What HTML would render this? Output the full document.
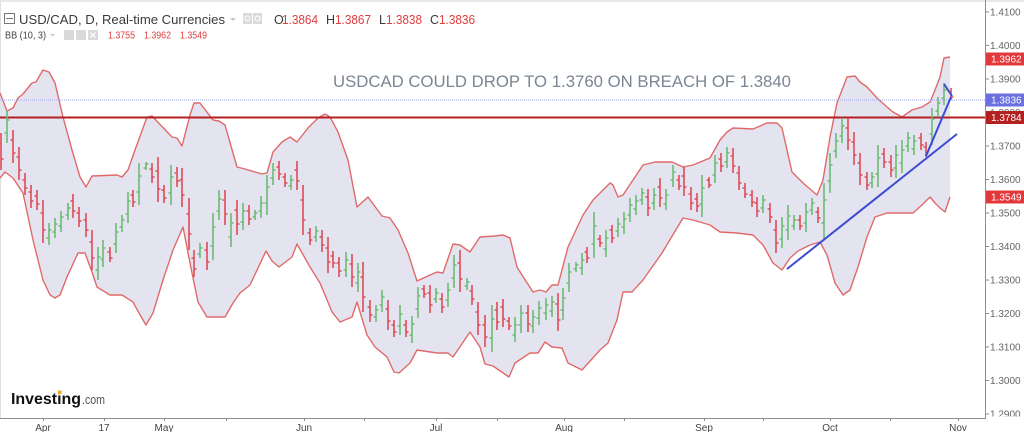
<!DOCTYPE html>
<html><head><meta charset="utf-8"><style>
html,body{margin:0;padding:0;background:#fff;}
svg{display:block;}
text{font-family:"Liberation Sans",sans-serif;}
</style></head><body>
<svg width="1024" height="432" viewBox="0 0 1024 432" xmlns="http://www.w3.org/2000/svg">
<rect x="0" y="0" width="1024" height="432" fill="#fff"/>
<rect x="0" y="0" width="1024" height="2" fill="#e9e9e9"/>
<line x1="0.5" y1="0" x2="0.5" y2="418" stroke="#dedede"/>

<!-- Bollinger band fill -->
<path fill="#e4e4f0" d="M0,93 L7,111 13,108 18,98 23,94 32,83 36,82 43,70 49,72 55,83 63,117 72,150 80,177 86,187 92,176 117,175 122,177 128,170 135,150 147,117 152,116 172,137 177,138 182,146 190,115 194,103 200,103 213,120 219,121 225,125 237,167 245,169 255,172 262,174 267,173 273,152 282,142 290,137 297,142 308,128 318,118 325,114 330,117 338,132 348,160 357,207 368,197 382,216 390,218 398,230 408,253 417,281 430,275 437,272 443,273 453,244 460,245 470,252 480,237 495,236 503,235 510,238 517,267 522,275 533,292 540,290 546,292 552,285 558,285 568,247 583,215 593,200 610,183 613,185 618,197 623,195 643,165 655,162 672,162 683,167 693,165 710,158 720,140 727,132 733,128 753,129 767,123 777,123 782,128 792,172 803,183 817,195 823,180 830,137 837,103 847,77 855,76 860,82 867,87 877,98 887,107 893,112 902,117 912,110 922,107 930,102 935,90 940,77 944,58 950,57 L950,197 945,212 940,208 935,203 930,197 922,205 913,213 903,213 887,213 875,217 867,237 858,267 850,290 843,295 835,283 827,255 820,242 810,245 798,251 790,258 782,270 773,263 763,245 753,235 737,233 720,232 710,225 693,220 683,218 662,253 643,280 632,292 623,292 617,320 608,343 600,350 582,370 568,363 562,348 552,347 545,342 538,353 530,353 515,363 509,377 493,366 485,364 480,347 470,332 453,357 448,353 437,353 417,350 410,363 399,373 394,372 387,357 375,347 367,335 357,302 352,317 340,322 332,312 320,283 310,267 297,244 292,257 279,267 272,261 266,251 250,285 240,293 233,303 225,317 207,317 198,302 192,273 183,227 173,250 163,280 153,313 146,325 139,313 133,302 122,295 110,295 97,287 92,272 85,253 78,253 67,277 60,295 55,298 50,295 43,280 33,240 23,193 13,178 5,172 0,178 Z"/>
<polyline fill="none" stroke="#df6a6a" stroke-width="1.4" stroke-linejoin="round" points="0,93 7,111 13,108 18,98 23,94 32,83 36,82 43,70 49,72 55,83 63,117 72,150 80,177 86,187 92,176 117,175 122,177 128,170 135,150 147,117 152,116 172,137 177,138 182,146 190,115 194,103 200,103 213,120 219,121 225,125 237,167 245,169 255,172 262,174 267,173 273,152 282,142 290,137 297,142 308,128 318,118 325,114 330,117 338,132 348,160 357,207 368,197 382,216 390,218 398,230 408,253 417,281 430,275 437,272 443,273 453,244 460,245 470,252 480,237 495,236 503,235 510,238 517,267 522,275 533,292 540,290 546,292 552,285 558,285 568,247 583,215 593,200 610,183 613,185 618,197 623,195 643,165 655,162 672,162 683,167 693,165 710,158 720,140 727,132 733,128 753,129 767,123 777,123 782,128 792,172 803,183 817,195 823,180 830,137 837,103 847,77 855,76 860,82 867,87 877,98 887,107 893,112 902,117 912,110 922,107 930,102 935,90 940,77 944,58 950,57"/>
<polyline fill="none" stroke="#df6a6a" stroke-width="1.4" stroke-linejoin="round" points="0,178 5,172 13,178 23,193 33,240 43,280 50,295 55,298 60,295 67,277 78,253 85,253 92,272 97,287 110,295 122,295 133,302 139,313 146,325 153,313 163,280 173,250 183,227 192,273 198,302 207,317 225,317 233,303 240,293 250,285 266,251 272,261 279,267 292,257 297,244 310,267 320,283 332,312 340,322 352,317 357,302 367,335 375,347 387,357 394,372 399,373 410,363 417,350 437,353 448,353 453,357 470,332 480,347 485,364 493,366 509,377 515,363 530,353 538,353 545,342 552,347 562,348 568,363 582,370 600,350 608,343 617,320 623,292 632,292 643,280 662,253 683,218 693,220 710,225 720,232 737,233 753,235 763,245 773,263 782,270 790,258 798,251 810,245 820,242 827,255 835,283 843,295 850,290 858,267 867,237 875,217 887,213 903,213 913,213 922,205 930,197 935,203 940,208 945,212 950,197"/>

<!-- horizontal lines -->
<line x1="0" y1="100" x2="985" y2="100" stroke="#9ea4ee" stroke-width="1" stroke-dasharray="1,1"/>
<line x1="0" y1="117.5" x2="985" y2="117.5" stroke="#b3201f" stroke-width="2"/>

<!-- green bars -->
<path fill="none" stroke="#6dbb74" stroke-width="1.6" d="M7 110V143M4.5 133H7M7 120H9.5M49 223V245M46.5 238H49M49 230H51.5M55 218V238M52.5 232H55M55 224H57.5M61 211V232M58.5 226H61M61 217H63.5M68 203V220M65.5 215H68M68 208H70.5M98 247V280M95.5 270H98M98 257H100.5M103 240V267M100.5 259H103M103 248H105.5M116 223V253M113.5 244H116M116 232H118.5M122 215V232M119.5 227H122M122 220H124.5M128 192V223M125.5 214H128M128 201H130.5M139 163V205M136.5 192H139M139 176H141.5M146 162V170M143.5 168H146M146 164H148.5M171 165V205M168.5 193H171M171 177H173.5M200 243V258M197.5 254H200M200 248H202.5M213 213V260M210.5 246H213M213 227H215.5M219 190V220M216.5 211H219M219 199H221.5M231 213V247M228.5 237H231M231 223H233.5M243 203V230M240.5 222H243M243 211H245.5M255 210V220M252.5 217H255M255 213H257.5M261 196V218M258.5 211H261M261 203H263.5M267 175V215M264.5 203H267M267 187H269.5M273 163V185M270.5 178H273M273 170H275.5M291 175V190M288.5 186H291M291 180H293.5M316 226V242M313.5 237H316M316 231H318.5M346 252V277M343.5 270H346M346 260H348.5M358 263V292M355.5 283H358M358 272H360.5M376 305V322M373.5 317H376M376 310H378.5M382 290V312M379.5 305H382M382 297H384.5M400 305V335M397.5 326H400M400 314H402.5M412 316V343M409.5 335H412M412 324H414.5M418 287V318M415.5 309H418M418 296H420.5M436 288V303M433.5 299H436M436 293H438.5M448 283V307M445.5 300H448M448 290H450.5M454 255V288M451.5 278H454M454 265H456.5M467 278V290M464.5 286H467M467 282H469.5M492 305V352M489.5 338H492M492 319H494.5M515 317V342M512.5 335H515M515 325H517.5M521 305V333M518.5 325H521M521 313H523.5M533 310V333M530.5 326H533M533 317H535.5M539 301V325M536.5 318H539M539 308H541.5M546 298V320M543.5 313H546M546 305H548.5M552 296V317M549.5 311H552M552 302H554.5M563 288V320M560.5 310H563M563 298H565.5M569 263V292M566.5 283H569M569 272H571.5M576 262V272M573.5 269H576M576 265H578.5M582 253V275M579.5 268H582M582 260H584.5M594 212V258M591.5 244H594M594 226H596.5M606 230V257M603.5 249H606M606 238H608.5M618 218V237M615.5 231H618M618 224H620.5M624 212V234M621.5 227H624M624 219H626.5M630 198V222M627.5 215H630M630 205H632.5M636 195V215M633.5 209H636M636 201H638.5M642 188V205M639.5 200H642M642 193H644.5M654 188V210M651.5 203H654M654 195H656.5M666 189V210M663.5 204H666M666 195H668.5M673 165V187M670.5 180H673M673 172H675.5M702 175V217M699.5 204H702M702 188H704.5M715 155V183M712.5 175H715M715 163H717.5M727 147V168M724.5 162H727M727 153H729.5M763 195V213M760.5 208H763M763 200H765.5M782 217V248M779.5 239H782M782 226H784.5M788 205V240M785.5 230H788M788 216H790.5M794 215V230M791.5 226H794M794 220H796.5M806 203V232M803.5 223H806M806 212H808.5M812 198V215M809.5 210H812M812 203H814.5M824 183V240M821.5 223H824M824 200H826.5M830 153V193M827.5 181H830M830 165H832.5M836 133V158M833.5 151H836M836 141H838.5M842 118V143M839.5 136H842M842 126H844.5M872 172V188M869.5 183H872M872 177H874.5M878 145V187M875.5 174H878M878 158H880.5M896 145V178M893.5 168H896M896 155H898.5M902 140V173M899.5 163H902M902 150H904.5M908 132V152M905.5 146H908M908 138H910.5M914 135V155M911.5 149H914M914 141H916.5M932 108V145M929.5 134H932M932 119H934.5M938 97V117M935.5 111H938M938 103H940.5M944 83V105M941.5 98H944M944 90H946.5"/>

<!-- red bars -->
<path fill="none" stroke="#de4c58" stroke-width="1.6" d="M1 133V170M-1.5 144H1M1 159H3.5M13 130V163M10.5 140H13M13 153H15.5M19 147V180M16.5 157H19M19 170H21.5M25 173V195M22.5 180H25M25 188H27.5M31 185V208M28.5 192H31M31 201H33.5M37 190V210M34.5 196H37M37 204H39.5M43 200V243M40.5 213H43M43 230H45.5M73 194V218M70.5 201H73M73 211H75.5M79 207V227M76.5 213H79M79 221H81.5M86 213V237M83.5 220H86M86 230H88.5M92 230V270M89.5 242H92M92 258H94.5M110 247V262M107.5 252H110M110 258H112.5M133 190V207M130.5 195H133M133 202H135.5M152 163V183M149.5 169H152M152 177H154.5M158 157V202M155.5 171H158M158 189H160.5M164 185V203M161.5 190H164M164 198H166.5M177 167V187M174.5 173H177M177 181H179.5M182 168V207M179.5 180H182M182 195H184.5M189 198V250M186.5 214H189M189 234H191.5M194 250V277M191.5 258H194M194 269H196.5M207 242V270M204.5 250H207M207 262H209.5M225 190V225M222.5 200H225M225 214H227.5M237 200V235M234.5 210H237M237 224H239.5M249 205V225M246.5 211H249M249 219H251.5M279 161V180M276.5 167H279M279 174H281.5M285 173V187M282.5 177H285M285 183H287.5M297 161V190M294.5 170H297M297 181H299.5M303 185V235M300.5 200H303M303 220H305.5M310 228V245M307.5 233H310M310 240H312.5M322 230V252M319.5 237H322M322 245H324.5M328 237V273M325.5 248H328M328 262H330.5M333 251V268M330.5 256H333M333 263H335.5M339 257V277M336.5 263H339M339 271H341.5M352 254V287M349.5 264H352M352 277H354.5M363 262V312M360.5 277H363M363 297H365.5M370 300V322M367.5 307H370M370 315H372.5M388 300V330M385.5 309H388M388 321H390.5M394 320V337M391.5 325H394M394 332H396.5M406 320V337M403.5 325H406M406 332H408.5M424 285V298M421.5 289H424M424 294H426.5M430 285V313M427.5 293H430M430 305H432.5M442 293V313M439.5 299H442M442 307H444.5M460 250V292M457.5 263H460M460 279H462.5M472 285V305M469.5 291H472M472 299H474.5M478 302V335M475.5 312H478M478 325H480.5M485 315V347M482.5 325H485M485 337H487.5M497 302V330M494.5 310H497M497 322H499.5M503 299V327M500.5 307H503M503 319H505.5M509 317V330M506.5 321H509M509 326H511.5M528 305V332M525.5 313H528M528 324H530.5M558 293V331M555.5 304H558M558 320H560.5M587 247V263M584.5 252H587M587 258H589.5M600 235V247M597.5 239H600M600 243H602.5M612 225V243M609.5 230H612M612 238H614.5M648 189V216M645.5 197H648M648 208H650.5M660 178V207M657.5 187H660M660 198H662.5M679 175V190M676.5 180H679M679 186H681.5M684 167V196M681.5 176H684M684 187H686.5M691 187V210M688.5 194H691M691 203H693.5M697 193V212M694.5 199H697M697 206H699.5M709 177V188M706.5 180H709M709 185H711.5M721 153V172M718.5 159H721M721 166H723.5M733 148V173M730.5 156H733M733 166H735.5M739 166V190M736.5 173H739M739 183H741.5M745 183V198M742.5 188H745M745 194H747.5M752 190V207M749.5 195H752M752 202H754.5M757 197V217M754.5 203H757M757 211H759.5M770 203V223M767.5 209H770M770 217H772.5M776 220V253M773.5 230H776M776 243H778.5M800 215V230M797.5 220H800M800 226H802.5M818 207V223M815.5 212H818M818 218H820.5M848 118V150M845.5 128H848M848 140H850.5M854 132V165M851.5 142H854M854 155H856.5M860 153V185M857.5 163H860M860 175H862.5M867 172V190M864.5 177H867M867 185H869.5M884 148V168M881.5 154H884M884 162H886.5M891 155V177M888.5 162H891M891 170H893.5M921 133V150M918.5 138H921M921 145H923.5M926 142V157M923.5 147H926M926 153H928.5M951 88V100M948.5 92H951M951 97H953.5"/>

<!-- trend lines -->
<line x1="787" y1="269" x2="957" y2="134" stroke="#3d4bd2" stroke-width="2"/>
<line x1="926" y1="156" x2="951" y2="97" stroke="#3d4bd2" stroke-width="2"/>
<line x1="944" y1="84" x2="952" y2="96" stroke="#3d4bd2" stroke-width="2"/>

<!-- annotation -->
<text x="333" y="87" font-size="17" fill="#7a8693" textLength="458" lengthAdjust="spacingAndGlyphs">USDCAD COULD DROP TO 1.3760 ON BREACH OF 1.3840</text>

<!-- header -->
<rect x="4.5" y="13.5" width="10" height="10" fill="none" stroke="#777" stroke-width="1"/>
<line x1="6" y1="18.5" x2="13" y2="18.5" stroke="#777" stroke-width="1"/>
<text x="19" y="24" font-size="13" fill="#3a3a3a" textLength="206" lengthAdjust="spacingAndGlyphs">USD/CAD, D, Real-time Currencies</text>
<path d="M230 18 L236 18 L233 21 Z" fill="#c8c8c8"/>
<rect x="243" y="13" width="9" height="11" fill="#dadada"/>
<rect x="253" y="13" width="9" height="11" fill="#dadada"/>
<circle cx="247.5" cy="18.5" r="2.5" fill="none" stroke="#fff" stroke-width="1"/>
<circle cx="257.5" cy="18.5" r="2.5" fill="none" stroke="#fff" stroke-width="1.2"/>
<text x="274" y="24" font-size="12.5" fill="#3a3a3a">O</text>
<text x="282" y="24" font-size="12.5" fill="#e03c3c" textLength="36" lengthAdjust="spacingAndGlyphs">1.3864</text>
<text x="326" y="24" font-size="12.5" fill="#3a3a3a">H</text>
<text x="335" y="24" font-size="12.5" fill="#e03c3c" textLength="36" lengthAdjust="spacingAndGlyphs">1.3867</text>
<text x="379" y="24" font-size="12.5" fill="#3a3a3a">L</text>
<text x="386" y="24" font-size="12.5" fill="#e03c3c" textLength="36" lengthAdjust="spacingAndGlyphs">1.3838</text>
<text x="430" y="24" font-size="12.5" fill="#3a3a3a">C</text>
<text x="439" y="24" font-size="12.5" fill="#e03c3c" textLength="36" lengthAdjust="spacingAndGlyphs">1.3836</text>

<text x="5" y="38.5" font-size="10" fill="#444" textLength="41" lengthAdjust="spacingAndGlyphs">BB (10, 3)</text>
<path d="M50 34 L55 34 L52.5 36.5 Z" fill="#c8c8c8"/>
<rect x="64" y="30" width="10" height="10" fill="#dadada"/>
<rect x="76" y="30" width="10" height="10" fill="#dadada"/>
<rect x="88" y="30" width="10" height="10" fill="#dadada"/>
<path d="M90.5 32.5 L95.5 37.5 M95.5 32.5 L90.5 37.5" stroke="#fff" stroke-width="1.2"/>
<text x="108" y="38.5" font-size="10" fill="#e03c3c" textLength="27" lengthAdjust="spacingAndGlyphs">1.3755</text>
<text x="144" y="38.5" font-size="10" fill="#e03c3c" textLength="27" lengthAdjust="spacingAndGlyphs">1.3962</text>
<text x="180" y="38.5" font-size="10" fill="#e03c3c" textLength="27" lengthAdjust="spacingAndGlyphs">1.3549</text>

<!-- axes -->
<g font-size="10" fill="#666">
<text x="990" y="15.5">1.4100</text>
<text x="990" y="49">1.4000</text>
<text x="990" y="82.5">1.3900</text>
<text x="990" y="116">1.3800</text>
<text x="990" y="149.5">1.3700</text>
<text x="990" y="183">1.3600</text>
<text x="990" y="216.5">1.3500</text>
<text x="990" y="250">1.3400</text>
<text x="990" y="283.5">1.3300</text>
<text x="990" y="317">1.3200</text>
<text x="990" y="350.5">1.3100</text>
<text x="990" y="384">1.3000</text>
<text x="990" y="417.5">1.2900</text>
</g>
<rect x="986" y="416.5" width="38" height="16" fill="#fff"/>
<line x1="985.5" y1="0" x2="985.5" y2="418" stroke="#8e8e8e" stroke-width="1"/>
<line x1="0" y1="418.5" x2="986" y2="418.5" stroke="#8e8e8e" stroke-width="1"/>
<g stroke="#8e8e8e" stroke-width="1">
<line x1="985" y1="12" x2="989" y2="12"/><line x1="985" y1="45.5" x2="989" y2="45.5"/><line x1="985" y1="79" x2="989" y2="79"/><line x1="985" y1="146" x2="989" y2="146"/><line x1="985" y1="179.5" x2="989" y2="179.5"/><line x1="985" y1="213" x2="989" y2="213"/><line x1="985" y1="246.5" x2="989" y2="246.5"/><line x1="985" y1="280" x2="989" y2="280"/><line x1="985" y1="313.5" x2="989" y2="313.5"/><line x1="985" y1="347" x2="989" y2="347"/><line x1="985" y1="380.5" x2="989" y2="380.5"/><line x1="985" y1="414" x2="989" y2="414"/>
<line x1="43.5" y1="418" x2="43.5" y2="421"/><line x1="104.5" y1="418" x2="104.5" y2="421"/><line x1="164.5" y1="418" x2="164.5" y2="421"/><line x1="226.5" y1="418" x2="226.5" y2="421"/><line x1="304.5" y1="418" x2="304.5" y2="421"/><line x1="364.5" y1="418" x2="364.5" y2="421"/><line x1="436.5" y1="418" x2="436.5" y2="421"/><line x1="497.5" y1="418" x2="497.5" y2="421"/><line x1="564.5" y1="418" x2="564.5" y2="421"/><line x1="624.5" y1="418" x2="624.5" y2="421"/><line x1="704.5" y1="418" x2="704.5" y2="421"/><line x1="763.5" y1="418" x2="763.5" y2="421"/><line x1="830.5" y1="418" x2="830.5" y2="421"/><line x1="890.5" y1="418" x2="890.5" y2="421"/><line x1="958.5" y1="418" x2="958.5" y2="421"/>
</g>

<!-- price boxes -->
<rect x="986" y="52.5" width="38" height="13" fill="#e2383c"/>
<text x="991" y="62.5" font-size="10" fill="#fff">1.3962</text>
<rect x="986" y="93.5" width="38" height="13" fill="#6a70e0"/>
<text x="991" y="103.5" font-size="10" fill="#fff">1.3836</text>
<rect x="986" y="111" width="38" height="13" fill="#b3201f"/>
<text x="991" y="121" font-size="10" fill="#fff">1.3784</text>
<rect x="986" y="190.5" width="38" height="13" fill="#e2383c"/>
<text x="991" y="200.5" font-size="10" fill="#fff">1.3549</text>

<!-- bottom labels -->
<g font-size="10" fill="#444" text-anchor="middle">
<text x="43" y="431">Apr</text>
<text x="104" y="431">17</text>
<text x="164" y="431">May</text>
<text x="304" y="431">Jun</text>
<text x="436" y="431">Jul</text>
<text x="564" y="431">Aug</text>
<text x="704" y="431">Sep</text>
<text x="830" y="431">Oct</text>
<text x="958" y="431">Nov</text>
</g>

<!-- logo -->
<text x="11" y="404" font-size="16" font-weight="bold" fill="#111" textLength="70" lengthAdjust="spacingAndGlyphs">Investing</text>
<rect x="58" y="390.5" width="3.6" height="3.6" fill="#f5a623"/>
<text x="82" y="404" font-size="12.5" fill="#555" textLength="23" lengthAdjust="spacingAndGlyphs">.com</text>
</svg>
</body></html>
